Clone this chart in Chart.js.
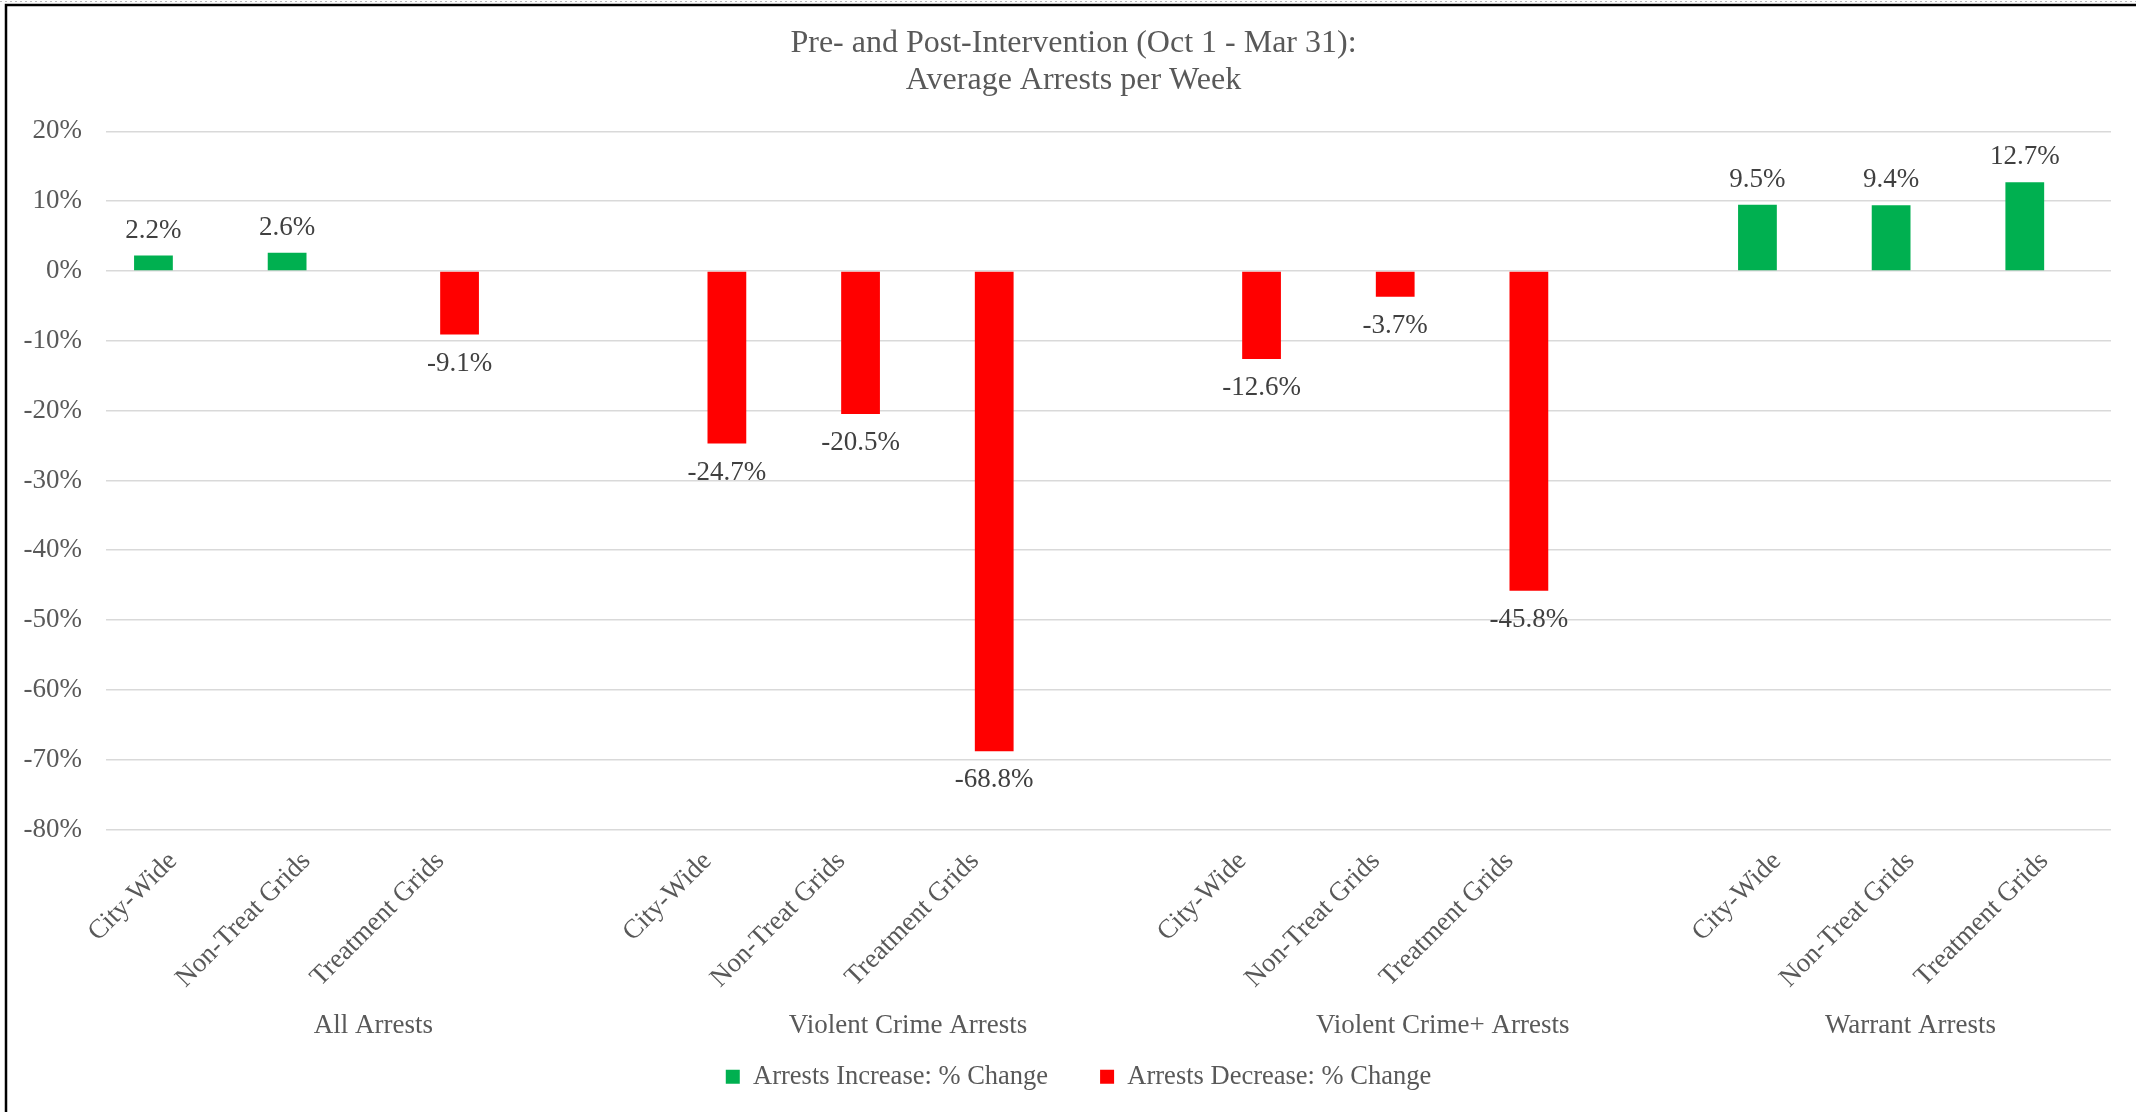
<!DOCTYPE html>
<html>
<head>
<meta charset="utf-8">
<script src="https://cdn.jsdelivr.net/npm/chart.js@4/dist/chart.umd.min.js"></script>
<style>
  html, body { margin: 0; padding: 0; background: #fff; }
</style>
</head>
<body>
<canvas id="barChart" width="2136" height="1112"></canvas>
<script>
// categories: empty strings are the blank spacer rows between groups
var categories = ['City-Wide', 'Non-Treat Grids', 'Treatment Grids', '',
                  'City-Wide', 'Non-Treat Grids', 'Treatment Grids', '',
                  'City-Wide', 'Non-Treat Grids', 'Treatment Grids', '',
                  'City-Wide', 'Non-Treat Grids', 'Treatment Grids'];
var increaseValues = [2.2, 2.6, null, null,
                      null, null, null, null,
                      null, null, null, null,
                      9.5, 9.4, 12.7];
var decreaseValues = [null, null, -9.1, null,
                      -24.7, -20.5, -68.8, null,
                      -12.6, -3.7, -45.8, null,
                      null, null, null];
var groupNames = ['All Arrests', 'Violent Crime Arrests', 'Violent Crime+ Arrests', 'Warrant Arrests'];
var groupFirst = [0, 4, 8, 12];
var groupLast = [3, 7, 11, 14];
var titleLines = ['Pre- and Post-Intervention (Oct 1 - Mar 31):', 'Average Arrests per Week'];

var serif = '"Liberation Serif", "Times New Roman", serif';
var grey = '#595959';

// white page with the black frame on the left and top
var frame = {
    id: 'frame',
    afterLayout: function(chart) {
        // Excel centres title and legend a bit right of the canvas middle
        chart.titleBlock.left += 36;
        chart.legend.left += 23;
        chart.legend.right += 23;
    },
    beforeDraw: function(chart) {
        var ctx = chart.ctx;
        ctx.save();
        ctx.fillStyle = '#fff';
        ctx.fillRect(0, 0, chart.width, chart.height);
        ctx.strokeStyle = '#bbb';
        ctx.lineWidth = 1;
        ctx.setLineDash([2, 3]);
        ctx.beginPath(); ctx.moveTo(0, 1.5); ctx.lineTo(chart.width, 1.5); ctx.stroke();
        ctx.setLineDash([]);
        ctx.strokeStyle = '#000';
        ctx.lineWidth = 2.5;
        ctx.beginPath();
        ctx.moveTo(6, chart.height);
        ctx.lineTo(6, 5);
        ctx.lineTo(chart.width, 5);
        ctx.stroke();
        ctx.restore();
    }
};

// value labels above/below each bar
var valueLabels = {
    id: 'valueLabels',
    afterDatasetsDraw: function(chart) {
        var ctx = chart.ctx;
        ctx.save();
        ctx.font = '27px ' + serif;
        ctx.fillStyle = '#404040';
        ctx.textAlign = 'center';
        ctx.textBaseline = 'middle';
        chart.data.datasets.forEach(function(ds, i) {
            chart.getDatasetMeta(i).data.forEach(function(bar, j) {
                var v = ds.data[j];
                if (v === null || v === undefined) return;
                var y = v >= 0 ? bar.y - 25 : bar.y + 29;
                ctx.fillText(v.toFixed(1) + '%', bar.x, y);
            });
        });
        ctx.restore();
    }
};

// second level of the category axis
var groupLabels = {
    id: 'groupLabels',
    afterDraw: function(chart) {
        var ctx = chart.ctx;
        var x = chart.scales.x;
        ctx.save();
        ctx.font = '27px ' + serif;
        ctx.fillStyle = grey;
        ctx.textAlign = 'center';
        ctx.textBaseline = 'middle';
        for (var i = 0; i < groupNames.length; i++) {
            var cx = (x.getPixelForTick(groupFirst[i]) + x.getPixelForTick(groupLast[i])) / 2;
            ctx.fillText(groupNames[i], cx, chart.chartArea.bottom + 196);
        }
        ctx.restore();
    }
};

var ctx = document.getElementById('barChart').getContext('2d');
var myChart = new Chart(ctx, {
    type: 'bar',
    data: {
        labels: categories,
        datasets: [{
            label: 'Arrests Increase: % Change',
            data: increaseValues,
            backgroundColor: '#00B050',
            categoryPercentage: 0.58,
            barPercentage: 1.0
        }, {
            label: 'Arrests Decrease: % Change',
            data: decreaseValues,
            backgroundColor: '#FF0000',
            categoryPercentage: 0.58,
            barPercentage: 1.0
        }]
    },
    options: {
        responsive: false,
        animation: false,
        layout: {
            padding: { left: 0, right: 25, top: 0, bottom: 12 }
        },
        plugins: {
            title: {
                display: true,
                text: titleLines,
                color: grey,
                font: { family: serif, size: 32, weight: 'normal', lineHeight: 1.13 },
                padding: { top: 26, bottom: 33 }
            },
            legend: {
                position: 'bottom',
                labels: {
                    color: grey,
                    font: { family: serif, size: 26.5 },
                    boxWidth: 14,
                    boxHeight: 14,
                    padding: 52
                }
            },
            tooltip: { enabled: false }
        },
        scales: {
            x: {
                grid: { display: false },
                border: { display: false },
                ticks: {
                    color: grey,
                    font: { family: serif, size: 27 },
                    minRotation: 45,
                    maxRotation: 45,
                    autoSkip: false,
                    padding: 8
                },
                afterFit: function(scale) { scale.height = 182; }
            },
            y: {
                min: -80,
                max: 20,
                grid: { color: '#d9d9d9', lineWidth: 1.5, drawTicks: false },
                border: { display: false },
                ticks: {
                    stepSize: 10,
                    color: grey,
                    font: { family: serif, size: 27 },
                    padding: 24,
                    callback: function(v) { return v + '%'; }
                },
                afterFit: function(scale) { scale.width = 106; }
            }
        }
    },
    plugins: [frame, valueLabels, groupLabels]
});
</script>
</body>
</html>
